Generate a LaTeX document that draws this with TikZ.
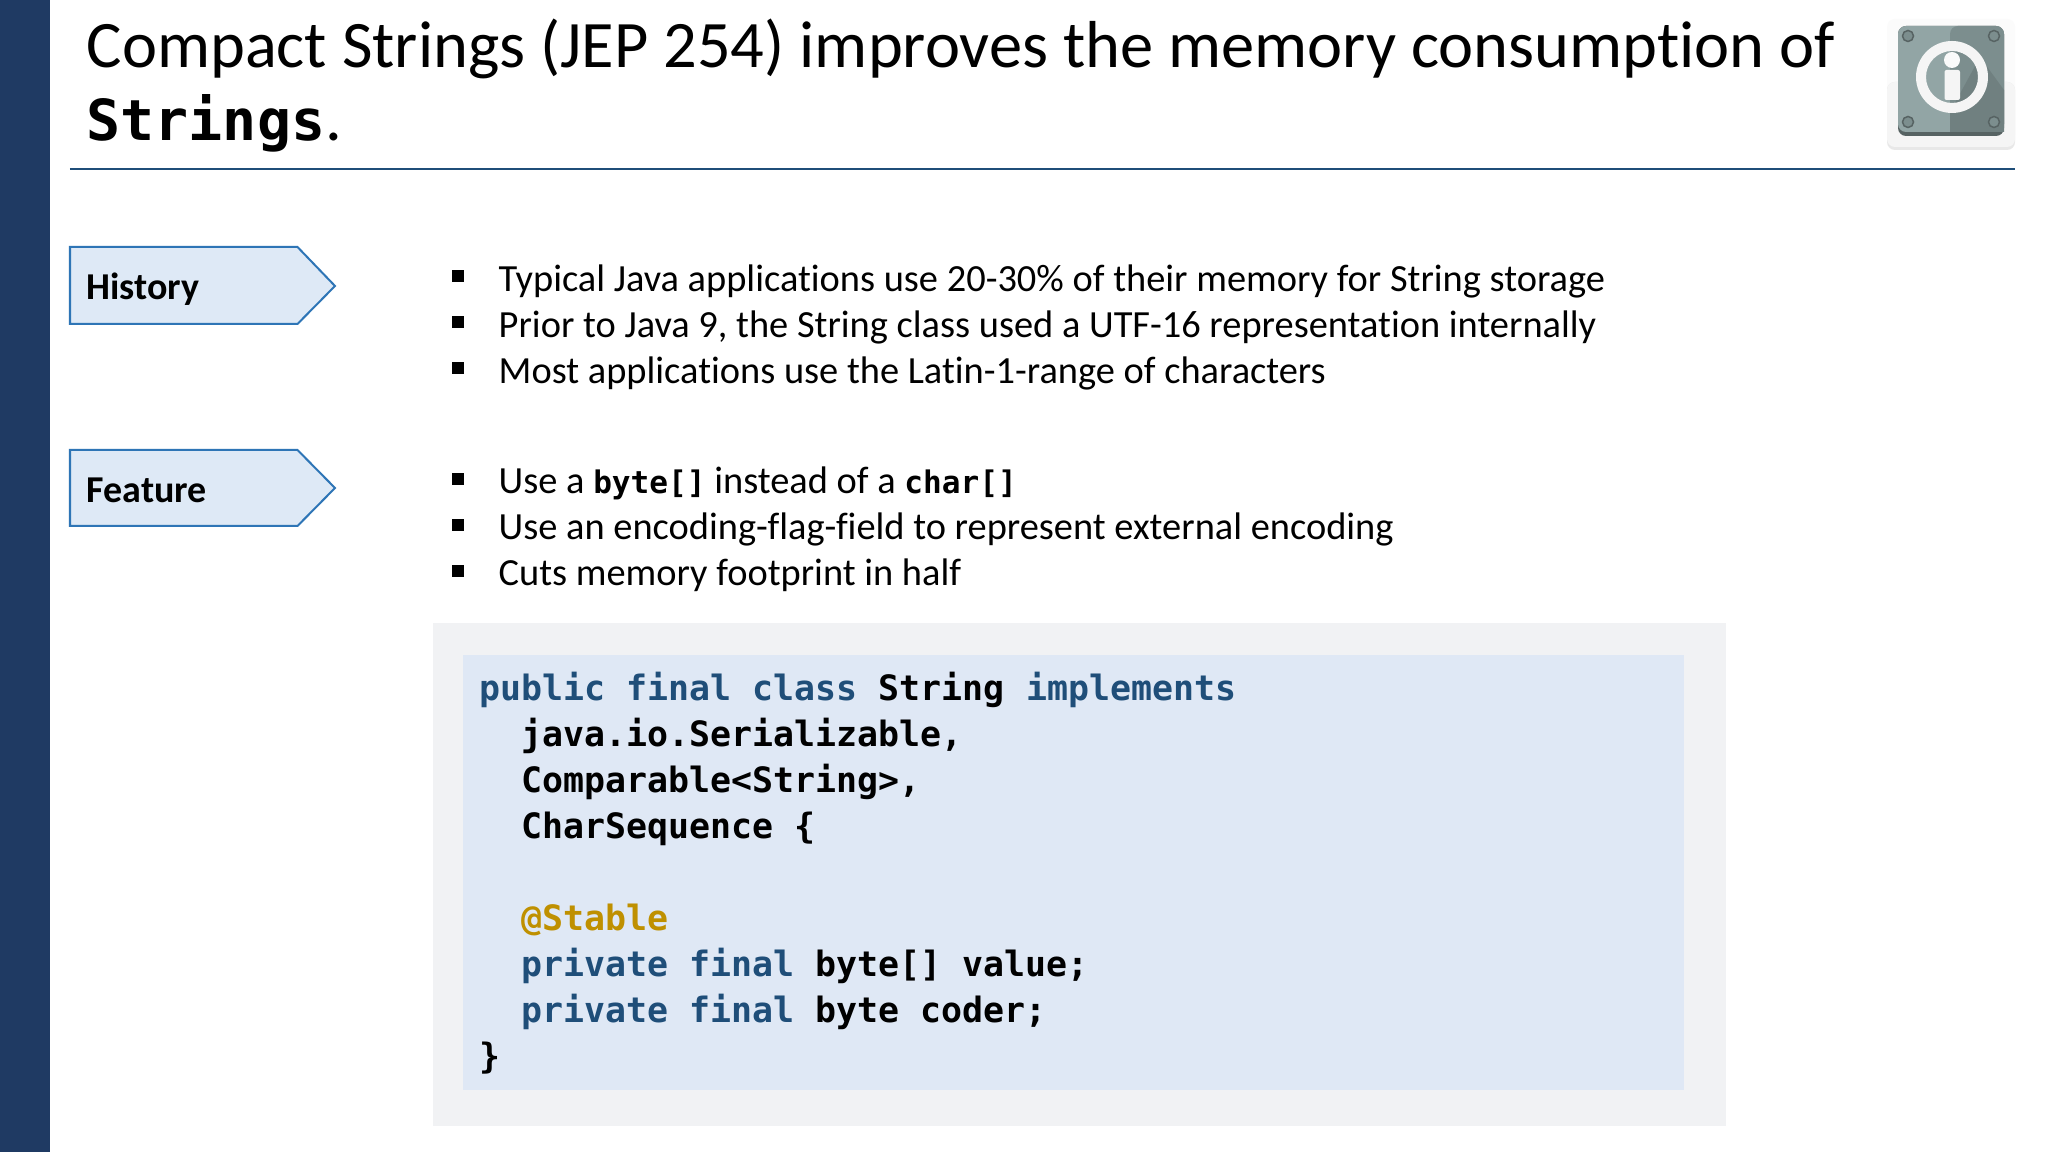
\documentclass[tikz,border=0pt]{standalone}
\usepackage{fontspec}
\setmainfont[Ligatures=NoCommon]{Carlito}
\newfontfamily\codefont{DejaVu Sans Mono}
\definecolor{barblue}{HTML}{1F3A63}
\definecolor{ruleblue}{HTML}{1F4E79}
\definecolor{tagfill}{HTML}{DEE9F6}
\definecolor{tagline}{HTML}{2E75B6}
\definecolor{panelgray}{HTML}{F1F2F4}
\definecolor{panelblue}{HTML}{DFE8F5}
\definecolor{keyblue}{HTML}{1F4E79}
\definecolor{annogold}{HTML}{BF9000}
\definecolor{platelight}{HTML}{92A5A5}
\definecolor{platedark}{HTML}{7C8E8E}
\tikzset{
  titletext/.style={anchor=base west,inner sep=0pt,font=\fontsize{18.9}{20}\selectfont},
  bodytext/.style={anchor=base west,inner sep=0pt,font=\fontsize{10.93}{12}\selectfont},
  tagtext/.style={anchor=base west,inner sep=0pt,font=\fontsize{10.8}{12}\selectfont\bfseries},
  codetext/.style={anchor=base west,inner sep=0pt,font=\fontsize{9.93}{12}\codefont\bfseries},
  bulletmark/.style={fill=black,minimum size=0.12cm,inner sep=0pt,outer sep=0pt},
  tagshape/.style={fill=tagfill,draw=tagline,line width=0.02cm},
}
\newcommand{\inlinecode}[1]{{\fontsize{8.85}{12}\codefont\bfseries #1}}
\newcommand{\keyword}[1]{\textcolor{keyblue}{#1}}
\begin{document}
\begin{tikzpicture}
  \useasboundingbox (0,0) rectangle (20.48,11.52);
  \fill[white] (0,0) rectangle (20.48,11.52);
  \fill[barblue] (0,0) rectangle (0.50,11.52);

  % title
  \node[titletext] (title1) at (0.86,10.84) {Compact Strings (JEP 254) improves the memory consumption of};
  \node[titletext] (title2) at (0.86,10.11) {{\fontsize{16.1}{20}\codefont\bfseries Strings}.};
  \draw[ruleblue,line width=0.02cm] (0.70,9.83) -- (20.15,9.83);

  % info icon
  \fill[white!97!gray,rounded corners=0.08cm] (18.87,10.10) rectangle (20.15,11.33);
  \fill[white!82!gray,rounded corners=0.08cm] (18.87,10.02) rectangle (20.15,10.70);
  \fill[white!92!gray,rounded corners=0.08cm] (18.87,10.05) rectangle (20.15,10.70);
  \fill[platedark!70!black,rounded corners=0.08cm] (18.98,10.16) rectangle (20.04,11.26);
  \fill[platelight,rounded corners=0.08cm] (18.98,10.20) rectangle (20.04,11.26);
  \fill[platedark,rounded corners=0.08cm] (19.50,10.20) rectangle (20.04,11.26);
  \fill[platedark!90!black] (19.50,10.20) -- (20.04,10.20) -- (20.04,10.62) -- (19.80,10.95) -- (19.50,10.40) -- cycle;
  \foreach \x in {19.08,19.94} {
    \foreach \y in {10.30,11.16} {
      \filldraw[fill=platedark,draw=platedark!70!black,line width=0.015cm] (\x,\y) circle (0.055);
    }
  }
  \fill[white!92!gray,even odd rule] (19.52,10.75) circle (0.36) (19.52,10.75) circle (0.26);
  \fill[white!96!gray] (19.52,10.92) circle (0.08);
  \fill[white!92!gray,rounded corners=0.02cm] (19.445,10.52) rectangle (19.60,10.82);

  % tags
  \draw[tagshape] (0.70,9.05) -- (2.975,9.05) -- (3.35,8.66) -- (2.975,8.28) -- (0.70,8.28) -- cycle;
  \node[tagtext] (history) at (0.86,8.52) {History};
  \draw[tagshape] (0.70,7.02) -- (2.975,7.02) -- (3.35,6.64) -- (2.975,6.26) -- (0.70,6.26) -- cycle;
  \node[tagtext] (feature) at (0.86,6.49) {Feature};

  % bullets
  \foreach \y [count=\i] in {8.76,8.30,7.84,6.73,6.27,5.81} {
    \node[bulletmark] (bullet\i) at (4.58,\y) {};
  }
  \node[bodytext] (line1) at (4.98,8.60) {Typical Java applications use 20-30\% of their memory for String storage};
  \node[bodytext] (line2) at (4.98,8.14) {Prior to Java 9, the String class used a UTF-16 representation internally};
  \node[bodytext] (line3) at (4.98,7.68) {Most applications use the Latin-1-range of characters};
  \node[bodytext] (line4) at (4.98,6.58) {Use a \inlinecode{byte[]} instead of a \inlinecode{char[]}};
  \node[bodytext] (line5) at (4.98,6.12) {Use an encoding-flag-field to represent external encoding};
  \node[bodytext] (line6) at (4.98,5.66) {Cuts memory footprint in half};

  % code panel
  \fill[panelgray] (4.33,0.26) rectangle (17.26,5.29);
  \fill[panelblue] (4.63,0.62) rectangle (16.84,4.97);
  \node[codetext] (code1) at (4.79,4.515) {\keyword{public final class} String \keyword{implements}};
  \node[codetext] (code2) at (5.21,4.055) {java.io.Serializable,};
  \node[codetext] (code3) at (5.21,3.595) {Comparable<String>,};
  \node[codetext] (code4) at (5.21,3.135) {CharSequence \{};
  \node[codetext,text=annogold] (code5) at (5.21,2.215) {@Stable};
  \node[codetext] (code6) at (5.21,1.755) {\keyword{private final} byte[] value;};
  \node[codetext] (code7) at (5.21,1.295) {\keyword{private final} byte coder;};
  \node[codetext] (code8) at (4.79,0.835) {\}};
\end{tikzpicture}
\end{document}
